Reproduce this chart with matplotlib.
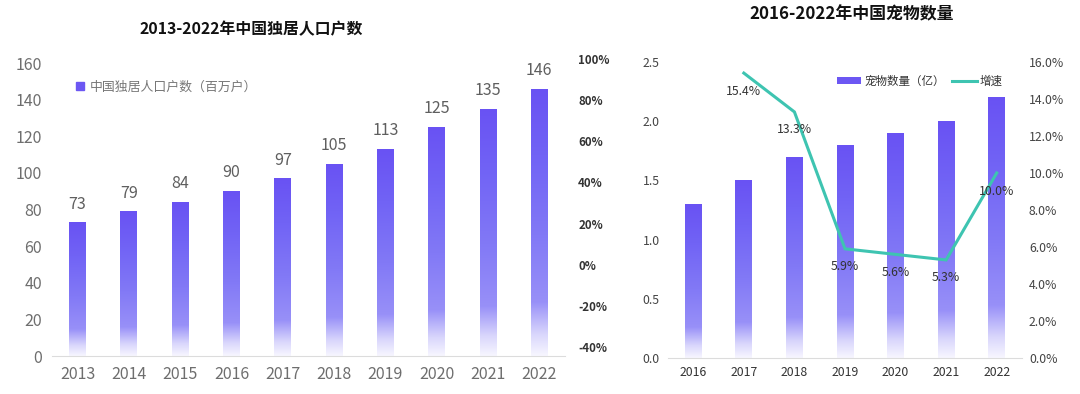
import numpy as np
import matplotlib
matplotlib.use("Agg")
import matplotlib.pyplot as plt
from matplotlib.patches import Patch
from matplotlib.lines import Line2D
from matplotlib.colors import LinearSegmentedColormap

plt.rcParams['font.family'] = ['Noto Sans CJK SC', 'DejaVu Sans']

# ---------------- data ----------------
years_single = ['2013', '2014', '2015', '2016', '2017', '2018', '2019', '2020', '2021', '2022']
single_households = [73, 79, 84, 90, 97, 105, 113, 125, 135, 146]
single_label = '中国独居人口户数（百万户）'
single_title = '2013-2022年中国独居人口户数'
single_yticks = [0, 20, 40, 60, 80, 100, 120, 140, 160]
single_pct_ticks = [-40, -20, 0, 20, 40, 60, 80, 100]

years_pet = ['2016', '2017', '2018', '2019', '2020', '2021', '2022']
pet_counts = [1.3, 1.5, 1.7, 1.8, 1.9, 2.0, 2.2]
growth_years = ['2017', '2018', '2019', '2020', '2021', '2022']
growth_rate = [15.4, 13.3, 5.9, 5.6, 5.3, 10.0]
pet_title = '2016-2022年中国宠物数量'
pet_label = '宠物数量（亿）'
growth_label = '增速'
pet_yticks = [0.0, 0.5, 1.0, 1.5, 2.0, 2.5]
pet_pct_ticks = [0, 2, 4, 6, 8, 10, 12, 14, 16]

PURPLE = '#6c57f3'
TEAL = '#3ec4b1'

# gradient: bottom (t=0) near white -> top purple
grad_cmap = LinearSegmentedColormap.from_list('g', [
    (0.00, '#f7f6ff'),
    (0.08, '#d9d6fc'),
    (0.20, '#9890f8'),
    (0.45, '#8279f6'),
    (0.75, '#7163f5'),
    (1.00, '#6952f3'),
])
grad = np.linspace(0, 1, 256).reshape(-1, 1)


def gradient_bars(ax, bars):
    for b in bars:
        x0, y0 = b.get_x(), b.get_y()
        w, h = b.get_width(), b.get_height()
        im = ax.imshow(grad, cmap=grad_cmap, vmin=0, vmax=1, extent=[x0, x0 + w, y0, y0 + h],
                       aspect='auto', origin='lower', zorder=2, interpolation='bilinear')
        im.set_clip_path(b)
        b.set_facecolor('none')
        b.set_edgecolor('none')


fig = plt.figure(figsize=(10.8, 3.94), dpi=100)

# ---------------- left chart ----------------
ax1 = fig.add_axes([0.0481, 0.0964, 0.475, 0.7437])
x1 = np.arange(len(years_single))
bars1 = ax1.bar(x1, single_households, width=0.33, zorder=2)
gradient_bars(ax1, bars1)
ax1.set_xlim(-0.5, len(years_single) - 0.5)
ax1.set_ylim(0, 160)
ax1.set_yticks(single_yticks)
ax1.set_xticks(x1)
ax1.set_xticklabels(years_single)
for s in ['top', 'right', 'left']:
    ax1.spines[s].set_visible(False)
ax1.spines['bottom'].set_color('#dcdcdc')
ax1.tick_params(axis='y', length=0, pad=7, labelsize=11.5, labelcolor='#6e6e6e')
ax1.tick_params(axis='x', length=0, pad=7, labelsize=11.5, labelcolor='#6e6e6e')
for xi, v in zip(x1, single_households):
    ax1.annotate(str(v), (xi, v), xytext=(0, 7), textcoords='offset points',
                 ha='center', va='bottom', fontsize=11.5, color='#5f5f5f')
ax1.legend(handles=[Line2D([], [], marker='s', color=PURPLE, linestyle='none', markersize=5.5)],
           labels=[single_label], loc='center left', bbox_to_anchor=(0.035, 0.918),
           frameon=False, handlelength=0.8, handletextpad=0.35, fontsize=9.3,
           labelcolor='#777777', borderaxespad=0)

ax1p = fig.add_axes([0.0481, 0.1193, 0.475, 0.731])
ax1p.patch.set_visible(False)
for s in ax1p.spines.values():
    s.set_visible(False)
ax1p.set_ylim(-40, 100)
ax1p.set_yticks(single_pct_ticks)
ax1p.set_yticklabels([f'{t}%' for t in single_pct_ticks])
ax1p.yaxis.tick_right()
ax1p.set_xticks([])
ax1p.tick_params(axis='y', length=0, pad=9.5, labelsize=8.3, labelcolor='#333333')
for lab in ax1p.get_yticklabels():
    lab.set_fontweight('bold')

fig.text(0.2324, 0.927, single_title, ha='center', va='center', fontsize=11.4,
         fontweight='bold', color='#111111')

# ---------------- right chart ----------------
ax2 = fig.add_axes([0.6185, 0.0914, 0.3278, 0.7513])
x2 = np.arange(len(years_pet))
bars2 = ax2.bar(x2, pet_counts, width=0.33, zorder=2)
gradient_bars(ax2, bars2)
ax2.set_xlim(-0.5, len(years_pet) - 0.5)
ax2.set_ylim(0, 2.5)
ax2.set_yticks(pet_yticks)
ax2.set_yticklabels([f'{t:.1f}' for t in pet_yticks])
ax2.set_xticks(x2)
ax2.set_xticklabels(years_pet)
for s in ['top', 'right', 'left']:
    ax2.spines[s].set_visible(False)
ax2.spines['bottom'].set_color('#dcdcdc')
ax2.tick_params(axis='y', length=0, pad=6, labelsize=8.8, labelcolor='#444444')
ax2.tick_params(axis='x', length=0, pad=6, labelsize=8.8, labelcolor='#333333')

ax2r = ax2.twinx()
gx = [years_pet.index(y) for y in growth_years]
ax2r.plot(gx, growth_rate, color=TEAL, lw=2.2, zorder=3, solid_joinstyle='miter')
ax2r.set_ylim(0, 16)
ax2r.set_yticks(pet_pct_ticks)
ax2r.set_yticklabels([f'{t:.1f}%' for t in pet_pct_ticks])
for s in ax2r.spines.values():
    s.set_visible(False)
ax2r.tick_params(axis='y', length=0, pad=5, labelsize=8.8, labelcolor='#444444')
for xi, v in zip(gx, growth_rate):
    ax2r.annotate(f'{v:.1f}%', (xi, v), xytext=(0, -13), textcoords='offset points',
                  ha='center', va='center', fontsize=8.8, color='#333333', zorder=4)

ax2r.legend(handles=[Patch(facecolor=PURPLE, edgecolor='none'),
                     Line2D([], [], color=TEAL, lw=2.2)],
            labels=[pet_label, growth_label], loc='center left',
            bbox_to_anchor=(0.465, 0.935), ncol=2, frameon=False, fontsize=8.3,
            handlelength=2.1, handleheight=0.55, handletextpad=0.3, columnspacing=0.6,
            labelcolor='#333333', borderaxespad=0)

fig.text(0.7889, 0.964, pet_title, ha='center', va='center', fontsize=12.2,
         fontweight='bold', color='#111111')

fig.savefig('out.png', dpi=100, facecolor='white')
